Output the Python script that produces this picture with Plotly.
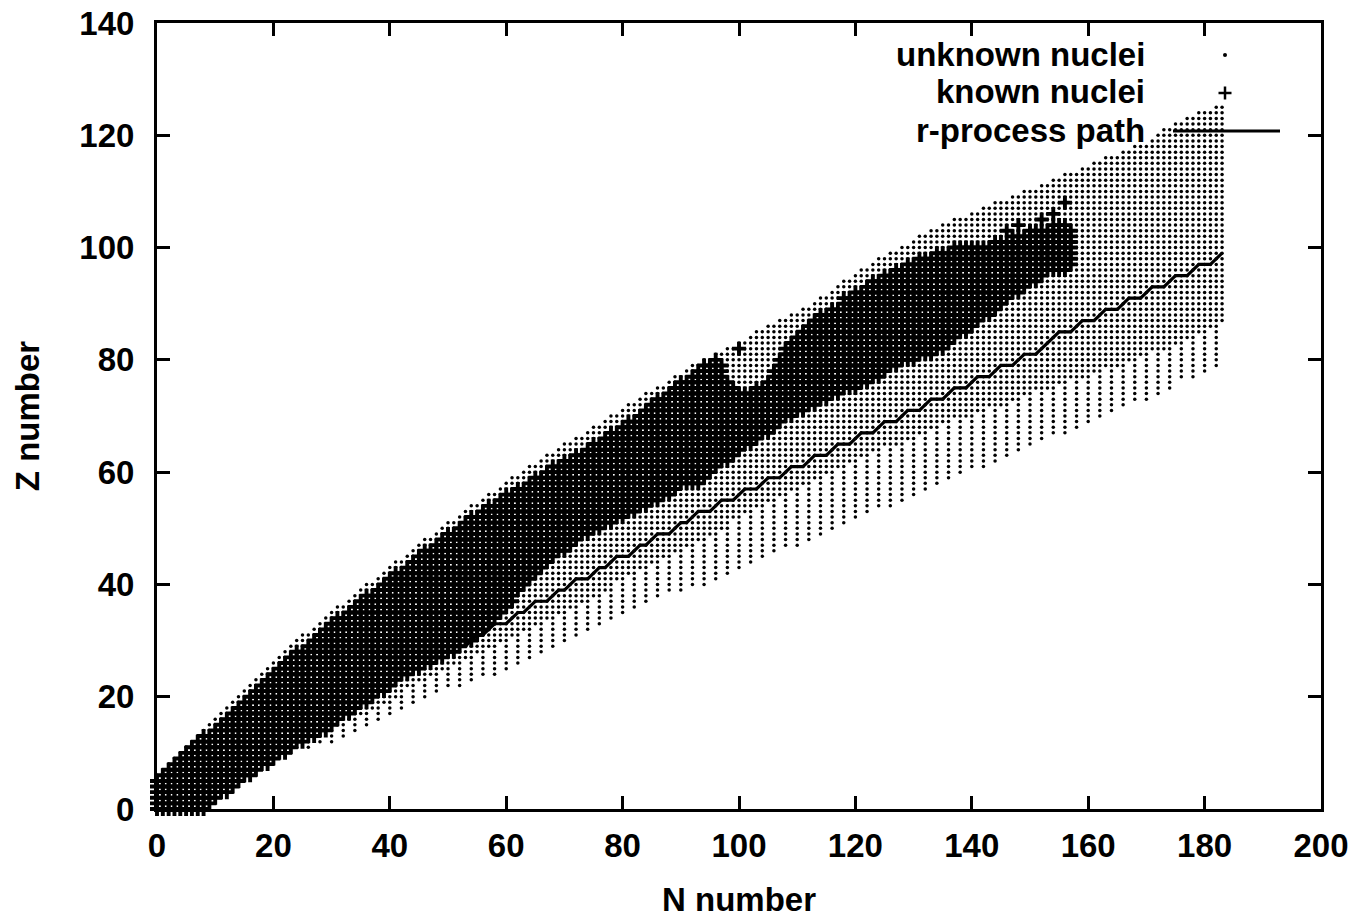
import plotly.graph_objects as go

# ---------------- data ----------------
N_MAX = 183

# top (proton-rich) edge of the unknown-nuclei band, N = 0..183
unk_zhi = [6, 7, 8, 9, 10, 11, 12, 13, 14, 15, 16, 17, 18, 19, 20, 21, 22, 23, 24, 25, 26, 27, 28,
           29, 30, 31, 31, 32, 33, 34,
           35, 36, 36, 37, 38, 39, 40, 40, 41, 42, 43, 44, 44, 45, 46, 47, 48, 48, 49, 50,
           51, 51, 52, 53, 54, 54, 55, 56, 56, 57, 58, 59, 59, 60, 61, 61, 62,
           63, 63, 64, 65, 65, 66, 66, 67, 68, 68, 69, 70, 70, 71, 72, 72, 73, 74, 74, 75, 75, 76, 77, 77, 78,
           79, 79, 80, 80, 81, 81, 82, 82, 83, 83, 84, 85, 85, 86, 86, 87, 87, 88, 88, 89, 89, 90,
           91, 91, 92, 93, 94, 94, 95, 96, 96, 97, 98, 98, 99, 99, 100, 100, 101, 102, 102, 103, 103, 104,
           104, 105, 105, 105, 106, 106, 107, 107, 108, 108,
           108, 109, 109, 110, 110, 110, 111, 111, 112, 112, 113, 113, 113, 114, 114, 115, 115, 116, 116,
           116, 117, 117, 118, 118, 118, 119, 120, 121, 121, 122, 122, 123, 123, 124, 124, 124, 125, 125]

# bottom (neutron-rich) edge of the unknown band, even N = 0,2,...,182
unk_zlo_even = [0, 0, 0, 0, 0, 2, 3, 5, 6, 8, 9, 10, 11, 11, 12, 12, 13, 14, 15, 16, 17, 18, 19, 20, 21,
                22, 22, 23, 24, 24, 25, 26, 27, 28, 29, 30, 31, 32, 33, 34, 35, 36, 37, 38, 39, 39,
                40, 40, 41, 42, 43, 44, 45, 46, 47, 47, 48, 49, 50, 51, 52, 53, 54, 54, 55, 56, 57,
                58, 59, 60, 61, 61, 62, 63, 64, 65, 66, 67, 67, 68, 69, 70, 71, 72, 73, 73, 74, 75,
                77, 77, 78, 79]

# bottom edge of the unknown band, odd N = 1,3,...,183
unk_zlo_odd = [0, 0, 0, 0, 1, 3, 4, 6, 7, 8, 10, 11, 12, 13, 14, 15, 16, 17, 18, 19, 20, 22, 23, 24, 25,
               26, 27, 28, 29, 30, 31, 32, 33, 34, 35, 36, 37, 38, 39, 41, 42, 43, 44, 45, 46, 47,
               48, 49, 50, 52, 53, 54, 55, 56, 57, 58, 59, 60, 61, 62, 63, 64, 65, 65, 66, 67, 68,
               69, 70, 70, 71, 72, 72, 73, 74, 75, 75, 76, 77, 77, 78, 79, 79, 80, 81, 82, 82, 83,
               84, 85, 86, 87]

# known nuclei band, N = 0..157
known_zlo = [0, 0, 0, 0, 0, 0, 0, 0, 0,
             1, 2, 3, 3, 4, 5, 6, 6, 7, 8, 8, 9, 10, 10, 11,
             12, 12, 13, 13, 14, 14, 15, 16, 17, 17, 18, 19, 19, 20, 21, 21, 22, 23, 24, 24, 25, 25,
             26, 26, 27, 27, 28, 28, 29, 30, 30, 31, 32, 33, 34, 35, 36, 37, 39, 40, 41, 42, 43, 44,
             45, 46, 46, 47, 48, 49, 49, 50, 50, 51, 51, 52, 52, 53, 53, 54, 54, 55, 55, 56, 56, 57,
             58, 58, 58, 58, 59, 60, 61, 62, 62, 63, 64, 65, 65, 66, 67, 67, 68, 69, 70, 70, 71, 71,
             72, 72, 73, 73, 74, 74, 75, 75, 75, 76, 76, 77, 77, 78, 79, 79, 80, 80, 80, 81, 81, 81,
             82, 82, 83, 84, 85, 85, 86, 87, 88, 88, 89, 90, 91, 92, 92, 93, 94, 94, 95, 96, 96, 96,
             96, 97]
known_zhi = [5, 6, 7, 8, 9, 10, 11, 12, 13, 13, 14, 15, 16, 17, 18, 19, 20, 21, 22, 23, 24, 25, 26, 27,
             28, 28, 29, 30, 31, 32, 33, 34, 34, 35, 36, 37, 38, 38, 39, 40, 41, 42, 42, 43, 44, 45,
             46, 46, 47, 48, 49, 49, 50, 51, 52, 52, 53, 54, 54, 55, 56, 56, 57, 57, 58, 59, 59, 60,
             61, 61, 62, 62, 63, 63, 64, 65, 65, 66, 67, 67, 68, 69, 69, 70, 71, 72, 73, 73, 74, 75,
             76, 76, 77, 78, 79, 79, 80, 79, 76, 75, 74, 74, 74, 75, 75, 76, 78, 80, 82, 83, 84, 85,
             86, 87, 88, 88, 89, 89,
             91, 91, 92, 92, 93, 94, 94, 95, 95, 96, 96, 97, 97, 98, 98, 98, 99, 99, 99, 100,
             100, 100, 100, 100, 100, 100, 101, 101, 101, 102, 102, 102, 103, 103, 103, 103, 104, 104,
             104, 103]
# isolated known nuclei above the band
known_extra_N = [100, 146, 148, 152, 154, 156]
known_extra_Z = [82, 103, 104, 105, 106, 108]

# r-process path vertices
rp_N = [51, 53, 55, 56, 58, 60, 62, 63, 65, 67, 69, 70, 72, 74, 76, 77, 79, 81, 83, 84, 86, 88, 90, 91,
        93, 95, 97, 99, 101, 103, 105, 107, 109, 111, 113, 115, 117, 119, 121, 123, 125, 127, 129, 131,
        133, 135, 137, 139, 141, 143, 145, 147, 149, 151, 153, 155, 157, 159, 161, 163, 165, 167, 169,
        171, 173, 175, 177, 179, 181, 183]
rp_Z = [29, 29, 31, 31, 33, 33, 35, 35, 37, 37, 39, 39, 41, 41, 43, 43, 45, 45, 47, 47, 49, 49, 51, 51,
        53, 53, 55, 55, 57, 57, 59, 59, 61, 61, 63, 63, 65, 65, 67, 67, 69, 69, 71, 71,
        73, 73, 75, 75, 77, 77, 79, 79, 81, 81, 83, 85, 85, 87, 87, 89, 89, 91, 91,
        93, 93, 95, 95, 97, 97, 99]

legend_labels = ["unknown nuclei", "known nuclei", "r-process path"]
x_ticks = [0, 20, 40, 60, 80, 100, 120, 140, 160, 180, 200]
y_ticks = [0, 20, 40, 60, 80, 100, 120, 140]

assert len(unk_zhi) == N_MAX + 1, len(unk_zhi)
assert len(unk_zlo_even) == N_MAX // 2 + 1, len(unk_zlo_even)
assert len(unk_zlo_odd) == (N_MAX + 1) // 2, len(unk_zlo_odd)
assert len(known_zlo) == len(known_zhi), (len(known_zlo), len(known_zhi))
assert len(rp_N) == len(rp_Z)

# ---------------- build the point sets ----------------
unk_x, unk_y, kn_x, kn_y = [], [], [], []
for n in range(N_MAX + 1):
    lo = unk_zlo_even[n // 2] if n % 2 == 0 else unk_zlo_odd[n // 2]
    hi = unk_zhi[n]
    has_known = n < len(known_zlo)
    start = min(lo, known_zlo[n]) if has_known else lo
    for z in range(start, hi + 1):
        if has_known and known_zlo[n] <= z <= known_zhi[n]:
            kn_x.append(n)
            kn_y.append(z)
        elif z >= lo:
            unk_x.append(n)
            unk_y.append(z)
kn_x += known_extra_N
kn_y += known_extra_Z

FONT = dict(family="Liberation Sans, Arial, Helvetica, sans-serif", size=33, color="black", weight="bold")

fig = go.Figure()
fig.add_trace(go.Scatter(x=unk_x, y=unk_y, mode="markers", name=legend_labels[0],
                         marker=dict(symbol="circle", size=3.5, color="black", line=dict(width=0)),
                         cliponaxis=False, showlegend=False))
fig.add_trace(go.Scatter(x=kn_x, y=kn_y, mode="markers", name=legend_labels[1],
                         marker=dict(symbol="cross-thin", size=10, color="black",
                                     line=dict(width=3.9, color="black")),
                         cliponaxis=False, showlegend=False))
fig.add_trace(go.Scatter(x=rp_N, y=rp_Z, mode="lines", name=legend_labels[2],
                         line=dict(color="black", width=3.2), showlegend=False))

# ---------------- layout ----------------
W, H = 1367, 919
L, R, T, B = 157, 1321, 23, 809


def px(xp):
    return (xp - L) / (R - L)


def py(yp):
    return (B - yp) / (B - T)


axis_common = dict(showline=True, linewidth=3, linecolor="black", mirror="ticks",
                   ticks="inside", ticklen=13, tickwidth=3, tickcolor="black",
                   showgrid=False, zeroline=False, tickfont=FONT)

fig.update_layout(
    width=W, height=H,
    margin=dict(l=L, r=W - R, t=T, b=H - B, autoexpand=False),
    paper_bgcolor="white", plot_bgcolor="white",
    xaxis=dict(range=[0, 200], tickvals=x_ticks, ticktext=[str(v) for v in x_ticks],
               ticklabelstandoff=5,
               title=dict(text="N number", font=FONT, standoff=26), **axis_common),
    yaxis=dict(range=[0, 140], tickvals=y_ticks, ticktext=[str(v) for v in y_ticks],
               ticklabelstandoff=13,
               title=dict(text="Z number", font=FONT, standoff=30), **axis_common),
)

# custom gnuplot-style key: text right-aligned, sample to its right
text_right = 1147
rows_y = [55, 93, 131]
for lab, ty in zip(legend_labels, rows_y):
    fig.add_annotation(xref="paper", yref="paper", x=px(text_right), y=py(ty - 1),
                       xanchor="right", yanchor="middle", text=lab, showarrow=False, font=FONT)
# dot sample
fig.add_shape(type="circle", xref="paper", yref="paper",
              x0=px(1223), x1=px(1227), y0=py(rows_y[0] + 2), y1=py(rows_y[0] - 2),
              fillcolor="black", line=dict(width=0))
# plus sample
fig.add_shape(type="line", xref="paper", yref="paper", x0=px(1218.5), x1=px(1231.5),
              y0=py(rows_y[1]), y1=py(rows_y[1]), line=dict(color="black", width=2.5))
fig.add_shape(type="line", xref="paper", yref="paper", x0=px(1225), x1=px(1225),
              y0=py(rows_y[1] - 6.5), y1=py(rows_y[1] + 6.5), line=dict(color="black", width=2.5))
# line sample
fig.add_shape(type="line", xref="paper", yref="paper", x0=px(1173), x1=px(1280),
              y0=py(rows_y[2]), y1=py(rows_y[2]), line=dict(color="black", width=3))

fig.write_html("out.html", include_plotlyjs=True, config={"displayModeBar": False},
               post_script="document.body.style.margin='0';document.body.style.overflow='hidden';")
